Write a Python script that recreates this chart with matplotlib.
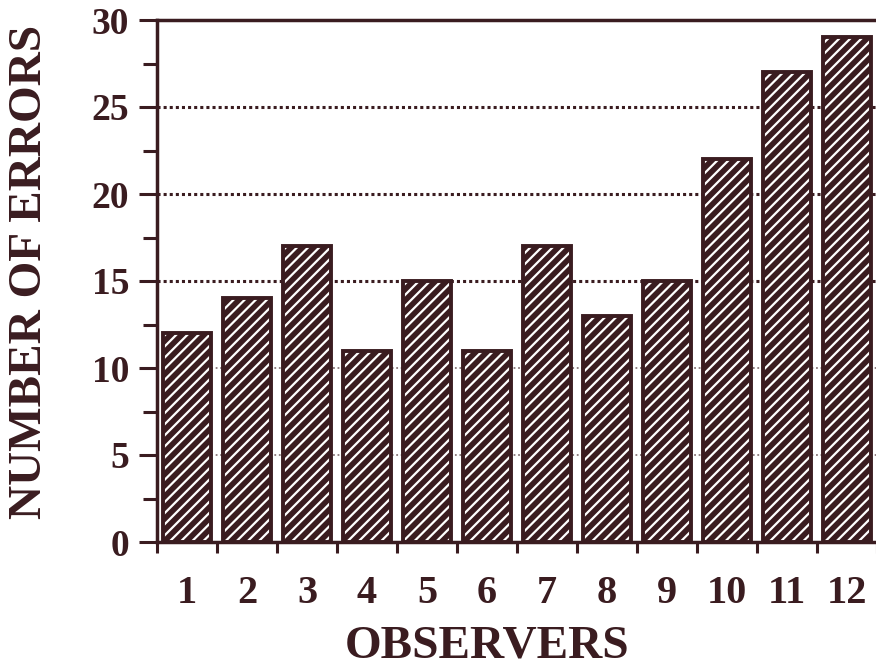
import matplotlib
matplotlib.use("Agg")
import matplotlib.pyplot as plt
import numpy as np

observers = [str(i) for i in range(1, 13)]
errors = [12, 14, 17, 11, 15, 11, 17, 13, 15, 22, 27, 29]
yticks = [0, 5, 10, 15, 20, 25, 30]

ink = "#3a1c20"
plt.rcParams['font.family'] = ['Liberation Serif', 'DejaVu Serif']
plt.rcParams['font.weight'] = 'bold'
plt.rcParams['hatch.linewidth'] = 1.6

fig = plt.figure(figsize=(8.76, 6.71), dpi=100)
ax = fig.add_axes([157/876, 129/671, 720/876, 522/671])

x = np.arange(1, 13)
# gridlines
for y in [5, 10]:
    ax.axhline(y, color=ink, lw=1.3, ls=(0, (1, 1.5)), alpha=0.6, zorder=1)
for y in [15, 20, 25]:
    ax.axhline(y, color=ink, lw=2.2, ls=(0, (1, 1)), zorder=1)

ax.bar(x, errors, width=0.8, facecolor=ink, edgecolor="white", hatch="///", linewidth=0, zorder=2)
ax.bar(x, errors, width=0.8, facecolor="none", edgecolor=ink, linewidth=2.8, zorder=3)

ax.set_xlim(0.5, 12.5)
ax.set_ylim(0, 30)
ax.set_yticks(yticks)
ax.set_yticks(np.arange(2.5, 30, 5), minor=True)
ax.set_yticklabels([str(v) for v in yticks], fontsize=27, fontweight='bold', color=ink)
ax.set_xticks(np.arange(0.5, 13, 1))
ax.set_xticklabels([])
ax.set_xticks(x, minor=True)
ax.set_xticklabels(observers, minor=True, fontsize=29, fontweight='bold', color=ink)

ax.tick_params(axis='y', which='major', direction='out', length=13, width=2.2, color=ink, pad=7)
ax.tick_params(axis='y', which='minor', direction='out', length=10, width=2.2, color=ink)
ax.tick_params(axis='x', which='major', direction='out', length=8, width=2.2, color=ink)
ax.tick_params(axis='x', which='minor', length=0, pad=24)

for s in ['left', 'top', 'bottom']:
    ax.spines[s].set_color(ink)
    ax.spines[s].set_linewidth(2.5)
ax.spines['right'].set_visible(False)

fig.text(487/876, 1 - 658/671, "OBSERVERS", fontsize=34, fontweight='bold', color=ink,
         ha='center', va='baseline')
fig.text(30/876, 1 - 272/671, "NUMBER OF ERRORS", fontsize=34, fontweight='bold', color=ink,
         ha='center', va='center', rotation=90)

fig.savefig("out.png", dpi=100)
